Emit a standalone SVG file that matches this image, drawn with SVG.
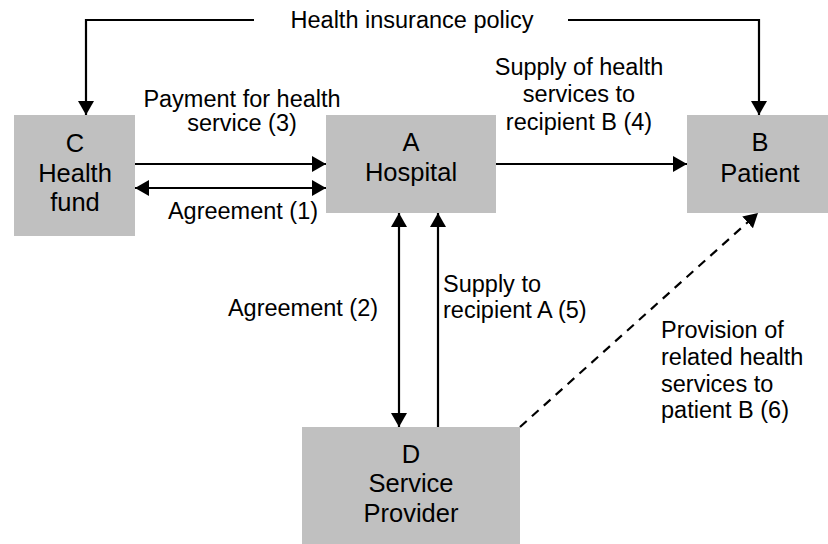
<svg xmlns="http://www.w3.org/2000/svg" width="828" height="544" viewBox="0 0 828 544">
<style>
.box{fill:#c0c0c0}
.bt{font-family:"Liberation Sans",Arial,sans-serif;font-size:25.5px;fill:#000;text-anchor:middle}
.lb{font-family:"Liberation Sans",Arial,sans-serif;font-size:23.5px;fill:#000}
.c{text-anchor:middle}
.ln{fill:none;stroke:#000;stroke-width:2.2}
</style>
<defs>
<marker id="ah" viewBox="0 0 14 16" refX="14" refY="8" markerWidth="14" markerHeight="16" markerUnits="userSpaceOnUse" orient="auto-start-reverse">
<path d="M0,0 L14,8 L0,16 Z" fill="#000"/>
</marker>
</defs>
<rect width="828" height="544" fill="#fff"/>
<g id="C"><rect class="box" x="14" y="115" width="121" height="121"/>
<text class="bt" x="75" y="152">C</text><text class="bt" x="75" y="182">Health</text><text class="bt" x="75" y="211">fund</text></g>
<g id="A"><rect class="box" x="326" y="115" width="170" height="98"/>
<text class="bt" x="411" y="151">A</text><text class="bt" x="411" y="181">Hospital</text></g>
<g id="B"><rect class="box" x="687" y="115" width="141" height="98"/>
<text class="bt" x="760" y="151">B</text><text class="bt" x="760" y="182">Patient</text></g>
<g id="D"><rect class="box" x="302" y="427" width="218" height="117"/>
<text class="bt" x="411" y="463">D</text><text class="bt" x="411" y="492">Service</text><text class="bt" x="411" y="522">Provider</text></g>
<g id="connectors">
<path class="ln" d="M254,20 H86 V115" marker-end="url(#ah)"/>
<path class="ln" d="M568,20 H759 V115" marker-end="url(#ah)"/>
<path class="ln" d="M135,164 H326" marker-end="url(#ah)"/>
<path class="ln" d="M135,188 H326" marker-start="url(#ah)" marker-end="url(#ah)"/>
<path class="ln" d="M496,164 H687" marker-end="url(#ah)"/>
<path class="ln" d="M399,213 V427" marker-start="url(#ah)" marker-end="url(#ah)"/>
<path class="ln" d="M438,427 V213" marker-end="url(#ah)"/>
<path class="ln" d="M520,427 L758,213" stroke-dasharray="9,7" marker-end="url(#ah)"/>
</g>
<g id="labels">
<text class="lb c" x="412" y="28">Health insurance policy</text>
<text class="lb c" x="242" y="107">Payment for health</text>
<text class="lb c" x="242" y="131">service (3)</text>
<text class="lb c" x="243" y="219">Agreement (1)</text>
<text class="lb c" x="579" y="75">Supply of health</text>
<text class="lb c" x="579" y="102">services to</text>
<text class="lb c" x="579" y="130">recipient B (4)</text>
<text class="lb c" x="303" y="316">Agreement (2)</text>
<text class="lb" x="443" y="292">Supply to</text>
<text class="lb" x="443" y="318">recipient A (5)</text>
<text class="lb" x="661" y="338">Provision of</text>
<text class="lb" x="661" y="365">related health</text>
<text class="lb" x="661" y="392">services to</text>
<text class="lb" x="661" y="418">patient B (6)</text>
</g>
</svg>
